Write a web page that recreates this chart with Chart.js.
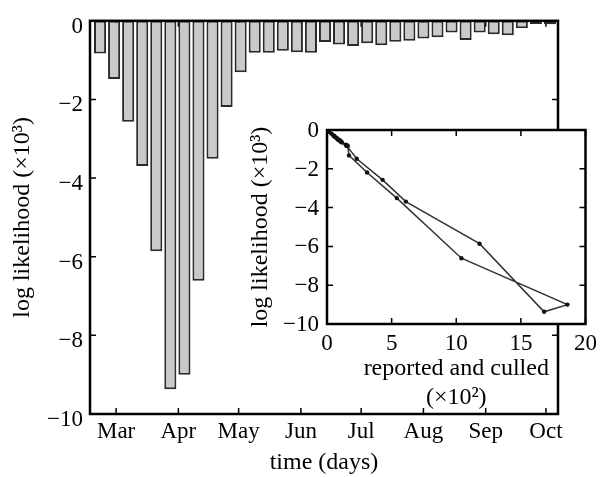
<!DOCTYPE html>
<html>
<head>
<meta charset="utf-8">
<script src="https://cdn.jsdelivr.net/npm/chart.js@4.4.1/dist/chart.umd.min.js"></script>
<style>
  body { margin: 0; background: #fff; }
  #wrap { position: relative; width: 603px; height: 477px; }
  #wrap canvas { position: absolute; left: 0; top: 0; }
</style>
</head>
<body>
<div id="wrap">
  <canvas id="main" width="603" height="477"></canvas>
  <canvas id="inset" width="603" height="477"></canvas>
</div>
<script>
// weekly values, days counted from 1 March
const weekDay = [-8, -1, 6, 13, 20, 27, 34, 41, 48, 55, 62, 69, 76, 83, 90, 97, 104,
  111, 118, 125, 132, 139, 146, 153, 160, 167, 174, 181, 188, 195, 202, 209, 216];
const logLik = [-0.83, -1.48, -2.57, -3.69, -5.86, -9.37, -9.0, -6.61, -3.51, -2.19, -1.31,
  -0.81, -0.81, -0.76, -0.80, -0.81, -0.54, -0.60, -0.64, -0.57, -0.62, -0.53, -0.51,
  -0.45, -0.42, -0.30, -0.49, -0.30, -0.34, -0.37, -0.19, -0.08, -0.09];
// reported and culled each week (x10^2)
const culled = [1.55, 2.3, 4.3, 6.1, 11.8, 16.8, 18.6, 10.4, 5.4, 3.1, 1.7,
  1.6, 1.55, 1.45, 1.5, 1.55, 1.0, 1.1, 1.15, 1.05, 1.1, 0.95, 0.9,
  0.8, 0.75, 0.55, 0.85, 0.5, 0.6, 0.65, 0.35, 0.15, 0.15];
const monthNames = ['Mar', 'Apr', 'May', 'Jun', 'Jul', 'Aug', 'Sep', 'Oct'];
const monthDays = [0, 31, 61, 92, 122, 153, 184, 214];

Chart.defaults.font.family = "'Liberation Serif', 'Times New Roman', serif";
Chart.defaults.font.size = 23;
Chart.defaults.color = '#000';

function minus(v) { return v < 0 ? '\u2212' + (-v) : String(v); }

// box round the plot area with inward tick marks, like the original
const frame = {
  id: 'frame',
  beforeDraw(chart, args, opts) {
    if (!opts.fill) return;
    const a = chart.chartArea, ctx = chart.ctx;
    ctx.save();
    ctx.fillStyle = '#fff';
    ctx.fillRect(a.left, a.top, a.right - a.left, a.bottom - a.top);
    ctx.restore();
  },
  beforeDatasetsDraw(chart) {
    const a = chart.chartArea, ctx = chart.ctx;
    const xs = chart.scales.x, ys = chart.scales.y, len = 6;
    ctx.save();
    ctx.strokeStyle = '#000';
    ctx.lineWidth = 1.5;
    ctx.beginPath();
    xs.ticks.forEach(t => {
      const p = xs.getPixelForValue(t.value);
      ctx.moveTo(p, a.bottom); ctx.lineTo(p, a.bottom - len);
      ctx.moveTo(p, a.top); ctx.lineTo(p, a.top + len);
    });
    ys.ticks.forEach(t => {
      const p = ys.getPixelForValue(t.value);
      ctx.moveTo(a.left, p); ctx.lineTo(a.left + len, p);
      ctx.moveTo(a.right, p); ctx.lineTo(a.right - len, p);
    });
    ctx.stroke();
    ctx.restore();
  },
  afterDraw(chart) {
    const a = chart.chartArea, ctx = chart.ctx;
    ctx.save();
    ctx.strokeStyle = '#000';
    ctx.lineWidth = 2.5;
    ctx.strokeRect(a.left, a.top, a.right - a.left, a.bottom - a.top);
    ctx.restore();
  }
};

new Chart(document.getElementById('main'), {
  type: 'bar',
  data: {
    datasets: [{
      data: weekDay.map((d, i) => ({ x: d, y: logLik[i] })),
      backgroundColor: '#c9c9c9',
      borderColor: '#2a2a2a',
      borderWidth: 2,
      borderSkipped: false,
      barPercentage: 0.86,
      categoryPercentage: 1
    }]
  },
  options: {
    responsive: false,
    animation: false,
    layout: { padding: { left: 0, top: 19, right: 45, bottom: 0 } },
    plugins: { legend: { display: false }, tooltip: { enabled: false }, frame: { fill: false } },
    scales: {
      x: {
        type: 'linear', min: -13, max: 220, offset: false,
        grid: { display: false, drawTicks: false }, border: { display: false },
        afterBuildTicks: s => { s.ticks = monthDays.map(v => ({ value: v })); },
        afterFit: s => { s.height = 63; },
        ticks: { autoSkip: false, maxRotation: 0, padding: 4, callback: (v, i) => monthNames[i] },
        title: { display: true, text: 'time (days)', font: { size: 24 }, padding: { top: 0, bottom: 0 } }
      },
      y: {
        min: -10, max: 0,
        grid: { display: false, drawTicks: false }, border: { display: false },
        afterFit: s => { s.width = 90; },
        ticks: { stepSize: 2, padding: 7, labelOffset: 6, callback: v => minus(v) },
        title: { display: true, text: 'log likelihood (\u00d710\u00b3)', font: { size: 24 }, padding: { top: 8, bottom: 0 } }
      }
    }
  },
  plugins: [frame]
});

new Chart(document.getElementById('inset'), {
  type: 'line',
  data: {
    datasets: [{
      data: culled.map((c, i) => ({ x: c, y: logLik[i] })),
      borderColor: '#333',
      borderWidth: 1.5,
      pointRadius: 2.2,
      pointBackgroundColor: '#111',
      pointBorderWidth: 0,
      tension: 0,
      fill: false
    }]
  },
  options: {
    responsive: false,
    animation: false,
    layout: { padding: { left: 240, top: 130, right: 16, bottom: 65 } },
    plugins: { legend: { display: false }, tooltip: { enabled: false }, frame: { fill: true } },
    scales: {
      x: {
        type: 'linear', min: 0, max: 20,
        grid: { display: false, drawTicks: false }, border: { display: false },
        afterFit: s => { s.height = 88; },
        ticks: { stepSize: 5, autoSkip: false, maxRotation: 0, padding: 6 },
        title: { display: true, text: ['reported and culled', '(\u00d710\u00b2)'], font: { size: 24 }, padding: { top: 0, bottom: 0 } }
      },
      y: {
        min: -10, max: 0,
        grid: { display: false, drawTicks: false }, border: { display: false },
        afterFit: s => { s.width = 87; },
        ticks: { stepSize: 2, padding: 8, labelOffset: 1, callback: v => minus(v) },
        title: { display: true, text: 'log likelihood (\u00d710\u00b3)', font: { size: 24 }, padding: { top: 6, bottom: 0 } }
      }
    }
  },
  plugins: [frame]
});
</script>
</body>
</html>
